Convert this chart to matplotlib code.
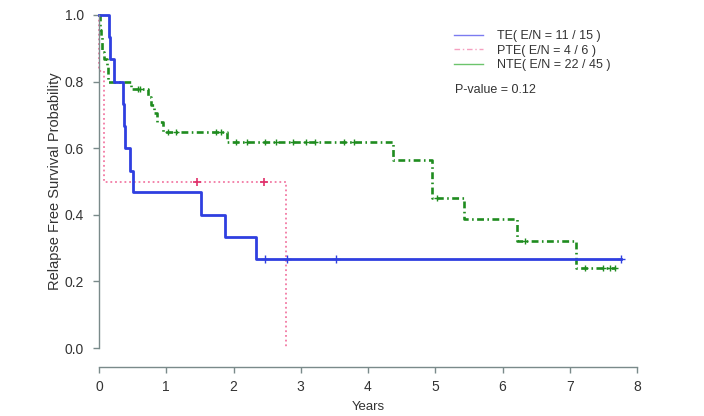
import matplotlib.pyplot as plt
from matplotlib.lines import Line2D

plt.rcParams['font.family'] = ['Liberation Sans', 'DejaVu Sans']

# Kaplan-Meier steps
te_time = [0, 0.149, 0.164, 0.228, 0.352, 0.372, 0.387, 0.456, 0.506, 1.52, 1.88, 2.34, 7.76]
te_surv = [1.0, 0.933, 0.867, 0.8, 0.733, 0.667, 0.6, 0.533, 0.467, 0.4, 0.333, 0.267, 0.267]
te_cens_time = [2.47, 2.79, 3.52, 7.76]
te_cens_surv = [0.267, 0.267, 0.267, 0.267]

pte_time = [0, 0.005, 0.075, 0.08, 2.78]
pte_surv = [1.0, 0.833, 0.667, 0.5, 0.0]
pte_cens_time = [1.45, 2.45]
pte_cens_surv = [0.5, 0.5]

nte_time = [0, 0.01, 0.02, 0.03, 0.04, 0.05, 0.07, 0.12, 0.13, 0.14,
            0.48, 0.73, 0.77, 0.82, 0.86, 0.95, 1.9, 4.37, 4.95, 5.43, 6.22, 7.09, 7.67]
nte_surv = [1.0, 0.978, 0.956, 0.933, 0.911, 0.889, 0.867, 0.844, 0.822, 0.8,
            0.777, 0.753, 0.729, 0.705, 0.68, 0.65, 0.62, 0.564, 0.45, 0.386, 0.321, 0.241, 0.241]
nte_cens_time = [0.575, 0.61, 1.03, 1.15, 1.74, 1.82, 2.03, 2.2, 2.47, 2.63, 2.89, 3.08,
                 3.21, 3.64, 3.79, 5.03, 6.33, 7.23, 7.5, 7.6, 7.67]
nte_cens_surv = [0.777, 0.777, 0.65, 0.65, 0.65, 0.65, 0.62, 0.62, 0.62, 0.62, 0.62, 0.62,
                 0.62, 0.62, 0.62, 0.45, 0.321, 0.241, 0.241, 0.241, 0.241]

labels = ['TE( E/N = 11 / 15 )', 'PTE( E/N = 4 / 6 )', 'NTE( E/N = 22 / 45 )']
x_ticks = [0, 1, 2, 3, 4, 5, 6, 7, 8]
y_ticks = [0.0, 0.2, 0.4, 0.6, 0.8, 1.0]

blue = '#2f3fe0'
pink = '#f27aa4'
green = '#1f8c1f'

fig = plt.figure(figsize=(7.04, 4.16), dpi=100)
ax = fig.add_axes([99 / 704, 68 / 416, 538 / 704, 333 / 416])

ax.step(pte_time, pte_surv, where='post', color=pink, lw=1.3,
        linestyle=(0, (1, 1.6)), clip_on=False)
ax.plot(pte_cens_time, pte_cens_surv, '+', color='#e0306a', ms=6, mew=1.2, clip_on=False)

ax.step(nte_time, nte_surv, where='post', color=green, lw=1.9,
        linestyle=(0, (2.6, 1.3, 0.6, 1.3)), clip_on=False)
ax.plot(nte_cens_time, nte_cens_surv, '+', color=green, ms=5, mew=1.0, clip_on=False)

ax.step(te_time, te_surv, where='post', color=blue, lw=2.0, clip_on=False)
ax.plot(te_cens_time, te_cens_surv, '+', color=blue, ms=6, mew=1.0, clip_on=False)

ax.set_xlim(0, 8)
ax.set_ylim(0, 1)
for s in ['top', 'right']:
    ax.spines[s].set_visible(False)
ax.spines['bottom'].set_position(('outward', 14))
ax.spines['left'].set_bounds(0, 1)
ax.spines['bottom'].set_bounds(0, 8)
for s in ['left', 'bottom']:
    ax.spines[s].set_color('#7a8a8a')
    ax.spines[s].set_linewidth(1.0)
ax.set_xticks(x_ticks)
ax.set_yticks(y_ticks)
ax.set_yticklabels(['%.1f' % v for v in y_ticks])
ax.tick_params(colors='#7a8a8a', labelcolor='#333333', labelsize=10, length=4, width=1.0)
ax.tick_params(axis='y', pad=7)
ax.tick_params(axis='x', pad=5)

ax.set_xlabel('Years', fontsize=9.5, color='#333333', va='center')
ax.set_ylabel('Relapse Free Survival Probability', fontsize=10.5, color='#333333', va='center')
ax.xaxis.set_label_coords(0.5, -(407 - 348) / 333)
ax.yaxis.set_label_coords((55 - 99) / 538, 0.5)

handles = [Line2D([], [], color='#7b7bf0', lw=1.0),
           Line2D([], [], color='#f5a0c0', lw=1.0, linestyle=(0, (4, 2, 1, 2))),
           Line2D([], [], color='#6cc46c', lw=1.0)]
leg = ax.legend(handles, labels, loc='upper left', bbox_to_anchor=(448 / 704, 1 - 24 / 416),
                bbox_transform=fig.transFigure, frameon=False, fontsize=9,
                handlelength=2.3, handletextpad=1.1, labelspacing=0.2, borderpad=0)
for t in leg.get_texts():
    t.set_color('#333333')

fig.text(455 / 704, 1 - 90 / 416, 'P-value = 0.12', fontsize=9, color='#333333',
         va='center', ha='left')

fig.savefig('out.png', dpi=100)
